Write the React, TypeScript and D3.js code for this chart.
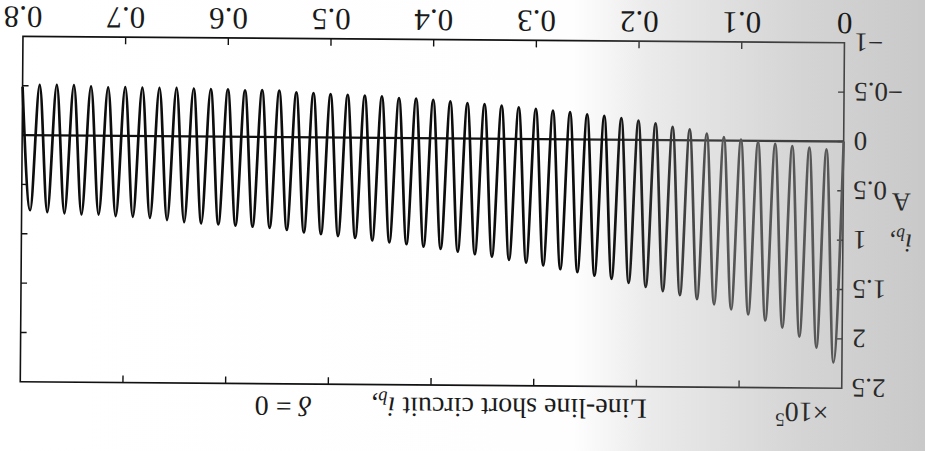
import React from "react";
import * as d3 from "d3";

const W = 925;
const H = 451;

// axis domains and ticks
const timeDomain: [number, number] = [0, 0.8];
const valueDomain: [number, number] = [-1, 2.5];
const xTickValues = [0, 0.1, 0.2, 0.3, 0.4, 0.5, 0.6, 0.7, 0.8];
const xTickLabels = ["0", "0.1", "0.2", "0.3", "0.4", "0.5", "0.6", "0.7", "0.8"];
const yTickValues = [-1, -0.5, 0, 0.5, 1, 1.5, 2, 2.5];
const yTickLabels = ["\u22121", "\u22120.5", "0", "0.5", "1", "1.5", "2", "2.5"];

// 60 Hz waveform: extrema, one per half cycle (×10^5 A)
const cyclePeriod = 1 / 60;
const startValue = 0;
const positivePeaks = [
  2.24, 2.09, 1.98, 1.89, 1.82, 1.76, 1.71, 1.66, 1.61, 1.57, 1.53, 1.49,
  1.45, 1.41, 1.38, 1.345, 1.317, 1.28, 1.253, 1.227, 1.195, 1.172, 1.147, 1.121,
  1.099, 1.076, 1.058, 1.04, 1.016, 0.998, 0.98, 0.965, 0.94, 0.92, 0.91, 0.9,
  0.89, 0.88, 0.87, 0.85, 0.83, 0.82, 0.815, 0.8, 0.8, 0.79, 0.78, 0.76,
];
const negativePeaks = [
  0.08, 0.065, 0.05, 0.03, 0.01, -0.01, -0.035, -0.07, -0.11, -0.135, -0.17, -0.195,
  -0.22, -0.24, -0.255, -0.275, -0.29, -0.306, -0.32, -0.336, -0.35, -0.36, -0.375, -0.39,
  -0.4, -0.405, -0.42, -0.426, -0.434, -0.44, -0.449, -0.455, -0.47, -0.475, -0.47, -0.48,
  -0.48, -0.485, -0.49, -0.49, -0.49, -0.495, -0.49, -0.5, -0.51, -0.51, -0.51, -0.49,
];

const FONT = "'Liberation Serif', 'Times New Roman', serif";

export default function App() {
  const x = d3.scaleLinear().domain(timeDomain).range([82, 903.5]);
  const y = d3.scaleLinear().domain(valueDomain).range([411.2, 65.75]);

  const points: [number, number][] = [[0, startValue]];
  positivePeaks.forEach((p, k) => {
    points.push([(k + 0.5) * cyclePeriod, p]);
    points.push([(k + 1) * cyclePeriod, negativePeaks[k]]);
  });

  const line = d3
    .line<[number, number]>()
    .x((d) => x(d[0]))
    .y((d) => y(d[1]))
    .curve(d3.curveMonotoneX);

  const [x0, x1] = x.range();
  const [yb, yt] = y.range();
  const tickLen = 7;
  const fs = 28;

  return (
    <svg
      width={W}
      height={H}
      viewBox={`0 0 ${W} ${H}`}
      style={{ position: "fixed", left: 0, top: 0, display: "block" }}
    >
      <defs>
        <linearGradient id="bg" x1="0" y1="0" x2={W} y2="0" gradientUnits="userSpaceOnUse">
          <stop offset="0" stopColor="#ffffff" />
          <stop offset="0.62" stopColor="#fefefe" />
          <stop offset="0.7" stopColor="#ebebeb" />
          <stop offset="0.78" stopColor="#e0e0e0" />
          <stop offset="0.87" stopColor="#d4d4d4" />
          <stop offset="1" stopColor="#c9c9c9" />
        </linearGradient>
        <linearGradient id="ink" x1={x0} y1="0" x2={x1} y2="0" gradientUnits="userSpaceOnUse">
          <stop offset="0" stopColor="#585858" />
          <stop offset="0.16" stopColor="#555555" />
          <stop offset="0.22" stopColor="#2e2e2e" />
          <stop offset="0.29" stopColor="#0d0d0d" />
          <stop offset="1" stopColor="#0d0d0d" />
        </linearGradient>
        <linearGradient id="axisInk" x1={x0} y1="0" x2={x1} y2="0" gradientUnits="userSpaceOnUse">
          <stop offset="0" stopColor="#444444" />
          <stop offset="0.25" stopColor="#333333" />
          <stop offset="0.35" stopColor="#111111" />
          <stop offset="1" stopColor="#111111" />
        </linearGradient>
      </defs>
      <rect x={0} y={0} width={W} height={H} fill="url(#bg)" />

      <g transform={`rotate(180.45, ${W / 2}, ${H / 2})`} fontFamily={FONT} fill="#1a1a1a">
        {/* frame */}
        <rect
          x={x0}
          y={yt}
          width={x1 - x0}
          height={yb - yt}
          fill="none"
          stroke="url(#axisInk)"
          strokeWidth={1.6}
        />
        {/* x ticks, inward on both sides */}
        {xTickValues.slice(1, -1).map((t) => (
          <g key={"xt" + t}>
            <line x1={x(t)} x2={x(t)} y1={yb} y2={yb - tickLen} stroke="url(#axisInk)" strokeWidth={1.4} />
            <line x1={x(t)} x2={x(t)} y1={yt} y2={yt + tickLen} stroke="url(#axisInk)" strokeWidth={1.4} />
          </g>
        ))}
        {/* y ticks, inward on both sides */}
        {yTickValues.slice(1, -1).map((v) => (
          <g key={"yt" + v}>
            <line x1={x0} x2={x0 + tickLen - 1} y1={y(v)} y2={y(v)} stroke="#3a3a3a" strokeWidth={1.4} />
            <line x1={x1} x2={x1 - tickLen + 1} y1={y(v)} y2={y(v)} stroke="#111" strokeWidth={1.4} />
          </g>
        ))}
        {/* zero line */}
        <line x1={x0} x2={x1} y1={y(0)} y2={y(0)} stroke="url(#axisInk)" strokeWidth={2.3} />

        {/* waveform */}
        <path d={line(points) || ""} fill="none" stroke="url(#ink)" strokeWidth={2.7} strokeLinejoin="round" />

        {/* x tick labels */}
        {xTickValues.map((t, i) => (
          <text key={"xl" + t} x={x(t)} y={441} textAnchor="middle" fontSize={31}>
            {xTickLabels[i]}
          </text>
        ))}
        {/* y tick labels */}
        {yTickValues.map((v, i) => (
          <text key={"yl" + v} x={72} y={y(v)} dy="0.35em" textAnchor="end" fontSize={27} fill="#2a2a2a">
            {yTickLabels[i]}
          </text>
        ))}

        {/* y axis label */}
        <text x={24} y={220} textAnchor="middle" fontSize={26} fill="#2a2a2a">
          <tspan fontStyle="italic">i</tspan>
          <tspan fontStyle="italic" fontSize={18} dy={6}>b</tspan>
          <tspan dy={-6}>,</tspan>
        </text>
        <text x={24} y={261} textAnchor="middle" fontSize={26} fill="#2a2a2a">
          A
        </text>

        {/* multiplier */}
        <text x={95} y={51} fontSize={fs} fill="#2a2a2a">
          {"\u00d710"}
          <tspan fontSize={19} dy={-11}>5</tspan>
        </text>

        {/* caption */}
        <text x={277} y={53} fontSize={fs} fill="#1a1a1a">
          {"Line-line short circuit "}
          <tspan fontStyle="italic">i</tspan>
          <tspan fontStyle="italic" fontSize={19} dy={6}>b</tspan>
          <tspan dy={-6}>,</tspan>
          <tspan x={612} fontStyle="italic">{"\u03b4"}</tspan>
          <tspan>{" = 0"}</tspan>
        </text>
      </g>
    </svg>
  );
}
